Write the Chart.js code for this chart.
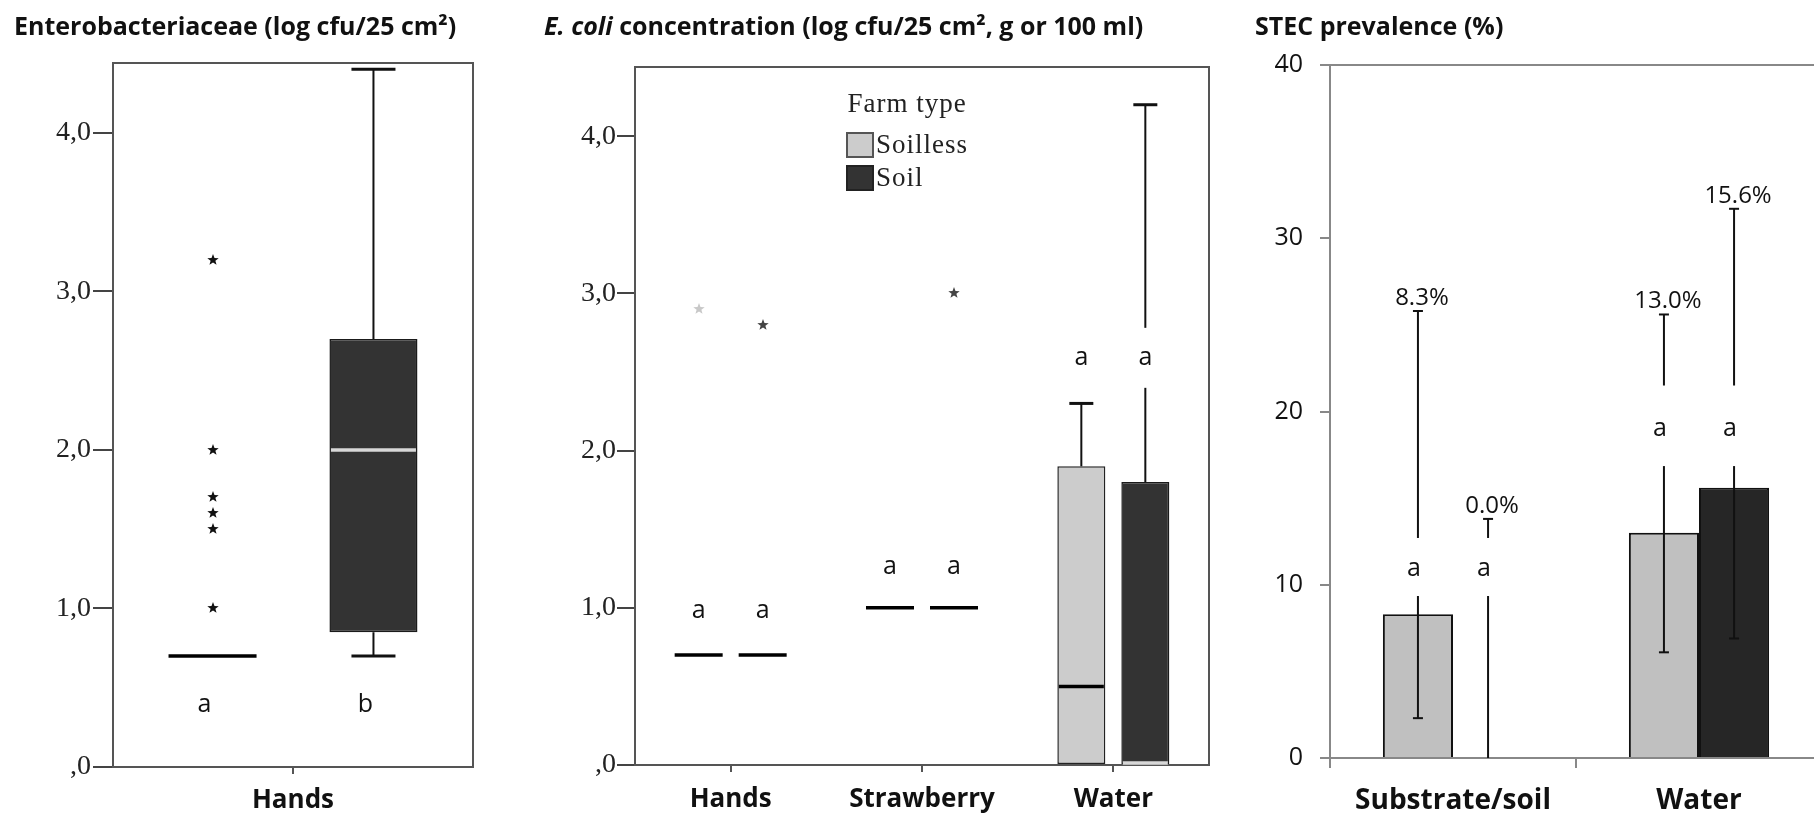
<!DOCTYPE html>
<html lang="en">
<head>
<meta charset="utf-8">
<title>Enterobacteriaceae, E. coli and STEC by farm type</title>
<script src="https://cdn.jsdelivr.net/npm/chart.js@4.4.1/dist/chart.umd.min.js"></script>
<style>
  html, body { margin: 0; padding: 0; background: #fff; width: 1814px; height: 818px; overflow: hidden; }
  .panel { position: absolute; top: 0; height: 818px; overflow: hidden; }
  .title { position: absolute; top: 9px; font: 700 25px "Open Sans", Lato, sans-serif; color: #111; white-space: nowrap; line-height: 32px; }
  canvas { display: block; }
</style>
</head>
<body>
<div class="panel" style="left:0;width:500px"><canvas id="entChart" width="500" height="818"></canvas></div>
<div class="panel" style="left:520px;width:700px"><canvas id="ecoliChart" width="700" height="818"></canvas></div>
<div class="panel" style="left:1200px;width:614px"><canvas id="stecChart" width="640" height="818"></canvas></div>
<div class="title" style="left:14px">Enterobacteriaceae (log cfu/25 cm²)</div>
<div class="title" style="left:544px"><i>E. coli</i> concentration (log cfu/25 cm², g or 100 ml)</div>
<div class="title" style="left:1255px">STEC prevalence (%)</div>

<script>
// ---- farm types ----
const farmTypes = ['Soilless', 'Soil'];

// ---- Enterobacteriaceae on hands (log cfu/25 cm²) ----
const entCategories = ['Hands'];
const entSoillessQ1 = [0.70];
const entSoillessMedian = [0.70];
const entSoillessQ3 = [0.70];
const entSoillessWhiskerLow = [0.70];
const entSoillessWhiskerHigh = [0.70];
const entSoillessOutliers = [[1.0, 1.5, 1.6, 1.7, 2.0, 3.2]];
const entSoilQ1 = [0.85];
const entSoilMedian = [2.00];
const entSoilQ3 = [2.70];
const entSoilWhiskerLow = [0.70];
const entSoilWhiskerHigh = [4.40];
const entSoilOutliers = [[]];
const entSoillessLetters = ['a'];
const entSoilLetters = ['b'];
const entLetterY = [0.39];

// ---- E. coli concentration (log cfu/25 cm², g or 100 ml) ----
const ecoliCategories = ['Hands', 'Strawberry', 'Water'];
const ecoliSoillessQ1 = [0.70, 1.00, 0.00];
const ecoliSoillessMedian = [0.70, 1.00, 0.50];
const ecoliSoillessQ3 = [0.70, 1.00, 1.90];
const ecoliSoillessWhiskerLow = [0.70, 1.00, 0.00];
const ecoliSoillessWhiskerHigh = [0.70, 1.00, 2.30];
const ecoliSoillessOutliers = [[2.90], [], []];
const ecoliSoilQ1 = [0.70, 1.00, 0.00];
const ecoliSoilMedian = [0.70, 1.00, 0.00];
const ecoliSoilQ3 = [0.70, 1.00, 1.80];
const ecoliSoilWhiskerLow = [0.70, 1.00, 0.00];
const ecoliSoilWhiskerHigh = [0.70, 1.00, 4.20];
const ecoliSoilOutliers = [[2.80], [3.00], []];
const ecoliLetters = ['a', 'a', 'a'];
const ecoliLetterY = [0.98, 1.26, 2.59];

// ---- STEC prevalence (%) with confidence intervals ----
const stecCategories = ['Substrate/soil', 'Water'];
const stecSoilless = [8.3, 13.0];
const stecSoil = [0.0, 15.6];
const stecSoillessCiLow = [2.3, 6.1];
const stecSoillessCiHigh = [25.8, 25.6];
const stecSoilCiLow = [0.0, 6.9];
const stecSoilCiHigh = [13.8, 31.7];
const stecLetters = ['a', 'a'];
const stecLetterY = [10.9, 19.0];
const stecLetterGapLow = [9.35, 16.85];
const stecLetterGapHigh = [12.7, 21.5];

// ---- tick labels ----
const logTickLabels = [',0', '1,0', '2,0', '3,0', '4,0'];
const stecTickLabels = ['0', '10', '20', '30', '40'];

Chart.defaults.font.family = '"Open Sans", Lato, sans-serif';
Chart.defaults.color = '#111';
Chart.defaults.animation = false;

const SERIF = '"Liberation Serif", "DejaVu Serif", serif';

// small filled five-point star used for outliers
function starSprite(color) {
  const s = 14, c = document.createElement('canvas');
  c.width = s; c.height = s;
  const g = c.getContext('2d');
  g.fillStyle = color;
  g.beginPath();
  for (let k = 0; k < 10; k++) {
    const r = k % 2 ? 2.5 : 6;
    const a = -Math.PI / 2 + k * Math.PI / 5;
    const px = s / 2 + r * Math.cos(a), py = s / 2 + r * Math.sin(a);
    if (k) g.lineTo(px, py); else g.moveTo(px, py);
  }
  g.closePath();
  g.fill();
  return c;
}

function strokeLine(ctx, x1, y1, x2, y2, w, color) {
  ctx.beginPath();
  ctx.lineWidth = w;
  ctx.strokeStyle = color;
  ctx.moveTo(x1, y1);
  ctx.lineTo(x2, y2);
  ctx.stroke();
}

const fixedWidth = (w) => (scale) => { scale.width = w; };
const fixedHeight = (h) => (scale) => { scale.height = h; };

// box outline around the plotting area
const frame = {
  id: 'frame',
  afterDatasetsDraw(chart, args, opts) {
    const { ctx, chartArea: a } = chart;
    ctx.save();
    ctx.lineWidth = opts.width || 2;
    ctx.strokeStyle = opts.color || '#555';
    ctx.strokeRect(a.left, a.top, a.right - a.left, a.bottom - a.top);
    ctx.restore();
  }
};

// whiskers, medians and outliers on top of the floating-bar boxes
const boxPlotMarks = {
  id: 'boxPlotMarks',
  afterDatasetsDraw(chart) {
    const ctx = chart.ctx, ys = chart.scales.y;
    const py = (v) => ys.getPixelForValue(v);
    ctx.save();
    chart.data.datasets.forEach((ds, di) => {
      const meta = chart.getDatasetMeta(di);
      meta.data.forEach((bar, i) => {
        const x = bar.x, w = bar.width;
        const q1 = ds.q1[i], q3 = ds.q3[i];
        const lo = ds.whiskerLow[i], hi = ds.whiskerHigh[i];
        if (hi > q3) {
          strokeLine(ctx, x, py(q3), x, py(hi), 2, '#111');
          strokeLine(ctx, x - w / 4, py(hi), x + w / 4, py(hi), 3, '#111');
        }
        if (lo < q1) {
          strokeLine(ctx, x, py(q1), x, py(lo), 2, '#111');
          strokeLine(ctx, x - w / 4, py(lo), x + w / 4, py(lo), 3, '#111');
        }
        const hasBox = q3 > q1;
        const my = py(ds.median[i]) - (hasBox && ds.median[i] === q1 ? 2 : 0);
        strokeLine(ctx, x - w / 2 + (hasBox ? 1.5 : 0), my, x + w / 2 - (hasBox ? 1.5 : 0), my,
          3.5, hasBox ? ds.medianColor : '#000');
        (ds.outliers[i] || []).forEach((v) => {
          ctx.drawImage(ds.star, Math.round(x - 7), Math.round(py(v) - 7));
        });
      });
    });
    ctx.restore();
  }
};

// confidence-interval bars and value labels for the prevalence bars
const errorBars = {
  id: 'errorBars',
  afterDatasetsDraw(chart) {
    const ctx = chart.ctx, ys = chart.scales.y;
    const py = (v) => ys.getPixelForValue(v);
    ctx.save();
    chart.data.datasets.forEach((ds, di) => {
      const meta = chart.getDatasetMeta(di);
      meta.data.forEach((bar, i) => {
        const x = bar.x;
        const lo = ds.ciLow[i], hi = ds.ciHigh[i];
        strokeLine(ctx, x, py(lo), x, py(hi), 2, '#111');
        strokeLine(ctx, x - 5, py(hi), x + 5, py(hi), 2, '#111');
        if (lo > 0) strokeLine(ctx, x - 5, py(lo), x + 5, py(lo), 2, '#111');
        ctx.font = '24px "Open Sans", Lato, sans-serif';
        ctx.fillStyle = '#111';
        ctx.textAlign = 'center';
        ctx.textBaseline = 'bottom';
        ctx.fillText(ds.data[i].toFixed(1) + '%', x + 4, py(hi) - 1);
      });
    });
    ctx.restore();
  }
};

// significance letters, with a white gap where they sit on a line
const letterMarks = {
  id: 'letterMarks',
  afterDatasetsDraw(chart, args, opts) {
    const ctx = chart.ctx, ys = chart.scales.y;
    const py = (v) => ys.getPixelForValue(v);
    ctx.save();
    chart.data.datasets.forEach((ds, di) => {
      const meta = chart.getDatasetMeta(di);
      meta.data.forEach((bar, i) => {
        const t = ds.letters && ds.letters[i];
        if (!t) return;
        const x = bar.x + (opts.dx || 0);
        const y = py(ds.letterY[i]);
        let gTop, gBot;
        if (ds.gapLow) { gTop = py(ds.gapHigh[i]); gBot = py(ds.gapLow[i]); }
        else { gTop = y - (opts.gap || 0); gBot = y + (opts.gap || 0); }
        if (gBot > gTop) {
          ctx.fillStyle = '#fff';
          ctx.fillRect(bar.x - 9, gTop, 18, gBot - gTop);
        }
        ctx.font = opts.font;
        ctx.fillStyle = '#111';
        ctx.textAlign = 'center';
        ctx.textBaseline = 'middle';
        ctx.fillText(t, x, y);
      });
    });
    ctx.restore();
  }
};

// "Farm type" key inside the E. coli panel
const farmTypeLegend = {
  id: 'farmTypeLegend',
  afterDraw(chart) {
    const { ctx, chartArea: a } = chart;
    const x0 = a.left + 211;
    ctx.save();
    ctx.font = '27px ' + SERIF;
    ctx.letterSpacing = '1px';
    ctx.fillStyle = '#222';
    ctx.textBaseline = 'middle';
    ctx.textAlign = 'center';
    ctx.fillText('Farm type', a.left + 272, a.top + 38);
    chart.data.datasets.forEach((ds, i) => {
      const top = a.top + 65 + i * 33;
      ctx.fillStyle = ds.backgroundColor;
      ctx.fillRect(x0, top, 28, 26);
      ctx.lineWidth = 2;
      ctx.strokeStyle = i === 0 ? '#555' : '#222';
      ctx.strokeRect(x0 + 1, top + 1, 26, 24);
      ctx.fillStyle = '#222';
      ctx.textAlign = 'left';
      ctx.fillText(ds.label, x0 + 30, top + 14);
    });
    ctx.restore();
  }
};

const pairs = (a, b) => a.map((v, i) => [v, b[i]]);

function logAxis(width, tickLen, pad) {
  return {
    min: 0, max: 4.44,
    ticks: {
      stepSize: 1, includeBounds: false, padding: pad, color: '#222',
      font: { family: SERIF, size: 28 },
      callback: (v) => logTickLabels[Math.round(v)]
    },
    grid: { drawOnChartArea: false, tickLength: tickLen, color: '#444', lineWidth: 2 },
    border: { color: '#555', width: 2 },
    afterFit: fixedWidth(width)
  };
}

function categoryAxis(height, tickLen, pad, offsetGrid, color, size) {
  return {
    grid: { offset: offsetGrid, drawOnChartArea: false, tickLength: tickLen, color: color, lineWidth: 2 },
    border: { color: color, width: 2 },
    ticks: { padding: pad, color: '#111', font: { weight: 'bold', size: size } },
    afterFit: fixedHeight(height)
  };
}

// ---- Enterobacteriaceae panel ----
new Chart(document.getElementById('entChart'), {
  type: 'bar',
  data: {
    labels: entCategories,
    datasets: [
      {
        label: farmTypes[0], data: pairs(entSoillessQ1, entSoillessQ3),
        backgroundColor: '#cccccc', borderColor: '#222', borderWidth: 0, borderSkipped: false,
        q1: entSoillessQ1, q3: entSoillessQ3, median: entSoillessMedian,
        whiskerLow: entSoillessWhiskerLow, whiskerHigh: entSoillessWhiskerHigh,
        outliers: entSoillessOutliers, medianColor: '#000', star: starSprite('#111'),
        letters: entSoillessLetters, letterY: entLetterY
      },
      {
        label: farmTypes[1], data: pairs(entSoilQ1, entSoilQ3),
        backgroundColor: '#333333', borderColor: '#1a1a1a', borderWidth: 1.5, borderSkipped: false,
        q1: entSoilQ1, q3: entSoilQ3, median: entSoilMedian,
        whiskerLow: entSoilWhiskerLow, whiskerHigh: entSoilWhiskerHigh,
        outliers: entSoilOutliers, medianColor: '#d8d8d8', star: starSprite('#333'),
        letters: entSoilLetters, letterY: entLetterY
      }
    ]
  },
  options: {
    responsive: false,
    layout: { padding: { top: 63, right: 27, bottom: 0, left: 0 } },
    datasets: { bar: { categoryPercentage: 0.894, barPercentage: 0.547 } },
    plugins: {
      legend: { display: false }, tooltip: { enabled: false }, title: { display: false },
      frame: { color: '#555', width: 2 },
      letterMarks: { font: '25px "Open Sans", Arial, sans-serif', dx: -8 }
    },
    scales: {
      x: categoryAxis(51, 7, 11, false, '#555', 26),
      y: logAxis(113, 20, 2)
    }
  },
  plugins: [frame, boxPlotMarks, letterMarks]
});

// ---- E. coli panel ----
new Chart(document.getElementById('ecoliChart'), {
  type: 'bar',
  data: {
    labels: ecoliCategories,
    datasets: [
      {
        label: farmTypes[0], data: pairs(ecoliSoillessQ1, ecoliSoillessQ3),
        backgroundColor: '#cccccc', borderColor: '#222', borderWidth: 1.5, borderSkipped: false,
        q1: ecoliSoillessQ1, q3: ecoliSoillessQ3, median: ecoliSoillessMedian,
        whiskerLow: ecoliSoillessWhiskerLow, whiskerHigh: ecoliSoillessWhiskerHigh,
        outliers: ecoliSoillessOutliers, medianColor: '#000', star: starSprite('#c8c8c8'),
        letters: ecoliLetters, letterY: ecoliLetterY
      },
      {
        label: farmTypes[1], data: pairs(ecoliSoilQ1, ecoliSoilQ3),
        backgroundColor: '#333333', borderColor: '#1a1a1a', borderWidth: 1.5, borderSkipped: false,
        q1: ecoliSoilQ1, q3: ecoliSoilQ3, median: ecoliSoilMedian,
        whiskerLow: ecoliSoilWhiskerLow, whiskerHigh: ecoliSoilWhiskerHigh,
        outliers: ecoliSoilOutliers, medianColor: '#d8d8d8', star: starSprite('#444'),
        letters: ecoliLetters, letterY: ecoliLetterY
      }
    ]
  },
  options: {
    responsive: false,
    layout: { padding: { top: 67, right: 11, bottom: 0, left: 0 } },
    datasets: { bar: { categoryPercentage: 0.669, barPercentage: 0.75 } },
    plugins: {
      legend: { display: false }, tooltip: { enabled: false }, title: { display: false },
      frame: { color: '#555', width: 2 },
      letterMarks: { font: '25px "Open Sans", Arial, sans-serif', gap: 30 }
    },
    scales: {
      x: categoryAxis(53, 7, 12, false, '#555', 26),
      y: logAxis(115, 18, 1)
    }
  },
  plugins: [frame, boxPlotMarks, letterMarks, farmTypeLegend]
});

// ---- STEC prevalence panel ----
new Chart(document.getElementById('stecChart'), {
  type: 'bar',
  data: {
    labels: stecCategories,
    datasets: [
      {
        label: farmTypes[0], data: stecSoilless,
        backgroundColor: '#c0c0c0', borderColor: '#111', borderWidth: 2,
        ciLow: stecSoillessCiLow, ciHigh: stecSoillessCiHigh,
        letters: stecLetters, letterY: stecLetterY, gapLow: stecLetterGapLow, gapHigh: stecLetterGapHigh
      },
      {
        label: farmTypes[1], data: stecSoil,
        backgroundColor: '#262626', borderColor: '#111', borderWidth: 2,
        ciLow: stecSoilCiLow, ciHigh: stecSoilCiHigh,
        letters: stecLetters, letterY: stecLetterY, gapLow: stecLetterGapLow, gapHigh: stecLetterGapHigh
      }
    ]
  },
  options: {
    responsive: false,
    layout: { padding: { top: 65, right: 18, bottom: 0, left: 0 } },
    datasets: { bar: { categoryPercentage: 0.57, barPercentage: 1.0 } },
    plugins: {
      legend: { display: false }, tooltip: { enabled: false }, title: { display: false },
      frame: { color: '#888', width: 2 },
      letterMarks: { font: '25px "Open Sans", Arial, sans-serif', dx: -4 }
    },
    scales: {
      x: categoryAxis(60, 10, 16, true, '#888', 28),
      y: {
        min: 0, max: 40,
        ticks: {
          stepSize: 10, padding: 17, color: '#111', font: { size: 25 },
          callback: (v) => stecTickLabels[Math.round(v / 10)]
        },
        grid: { drawOnChartArea: false, tickLength: 10, color: '#888', lineWidth: 2 },
        border: { color: '#888', width: 2 },
        afterFit: fixedWidth(130)
      }
    }
  },
  plugins: [frame, errorBars, letterMarks]
});
</script>
</body>
</html>
